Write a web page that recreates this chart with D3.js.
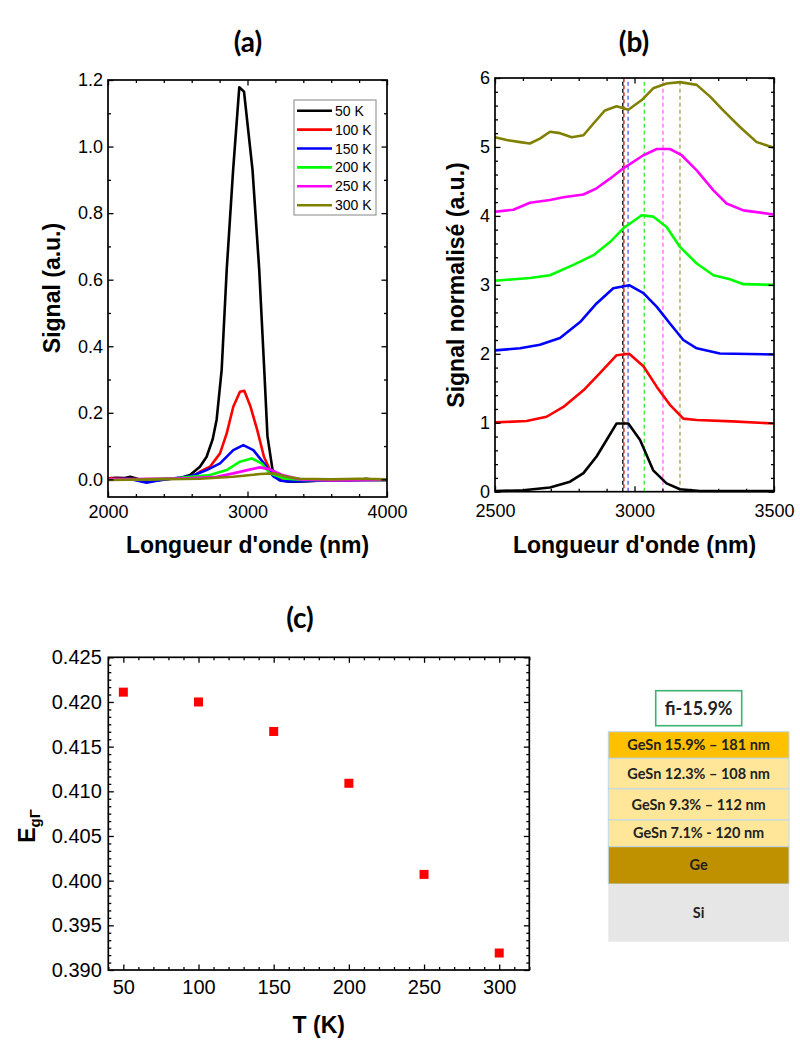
<!DOCTYPE html>
<html><head><meta charset="utf-8">
<script src="https://cdn.jsdelivr.net/npm/d3@7"></script>
<style>
body{margin:0;background:#fff}
svg{display:block}
</style></head><body>
<svg id="chart" width="800" height="1041"></svg>
<script>
// ---------------- Panel (a) data ----------------
const seriesLabels = ["50 K", "100 K", "150 K", "200 K", "250 K", "300 K"];
const seriesColors = ["#000000", "#ff0000", "#0000ff", "#00ff00", "#ff00ff", "#808000"];

const wlA50  = [2000,2060,2120,2160,2220,2280,2340,2400,2460,2520,2588,2659,2707,2750,2779,2815,2851,2897,2941,2975,3036,3084,3120,3143,3179,3227,3298,3400,3500,3600,3700,3800,3850,3900,4000];
const sigA50 = [0.003,0.005,0.004,0.008,0.0,-0.006,-0.004,0.0,0.002,0.004,0.013,0.038,0.068,0.12,0.18,0.33,0.63,0.93,1.178,1.165,0.93,0.63,0.33,0.13,0.03,-0.002,-0.007,-0.006,-0.004,-0.003,-0.003,-0.001,0.002,-0.001,-0.002];
const wlA100  = [2000,2200,2400,2550,2620,2659,2731,2803,2851,2898,2946,2977,3022,3070,3118,3177,3237,3300,3500,3800,4000];
const sigA100 = [0.003,0.0,0.002,0.005,0.012,0.023,0.038,0.078,0.138,0.218,0.263,0.266,0.218,0.148,0.068,0.013,0.0,-0.004,-0.004,-0.002,-0.002];
const wlA150  = [2000,2150,2277,2350,2450,2600,2707,2803,2898,2970,3042,3118,3188,3237,3300,3500,4000];
const sigA150 = [0.0,0.002,-0.01,-0.004,0.002,0.01,0.028,0.048,0.088,0.103,0.088,0.048,0.008,-0.004,-0.006,-0.004,-0.002];
const wlA200  = [2000,2300,2500,2731,2851,2946,3030,3101,3161,3257,3400,4000];
const sigA200 = [0.0,0.0,0.004,0.013,0.028,0.053,0.063,0.048,0.018,0.003,-0.002,-0.002];
const wlA250  = [2000,2400,2600,2779,2898,3022,3090,3161,3257,3376,3600,4000];
const sigA250 = [0.0,0.002,0.004,0.008,0.018,0.03,0.036,0.03,0.012,0.0,-0.003,-0.001];
const wlA300  = [2000,2300,2659,2898,3090,3188,3281,3376,3600,3800,4000];
const sigA300 = [-0.002,0.0,0.002,0.008,0.016,0.018,0.008,0.002,0.0,0.002,0.0];

const xTicksA = [2000, 3000, 4000];
const xMinorA = [2200,2400,2600,2800,3200,3400,3600,3800];
const yTicksA = [0.0, 0.2, 0.4, 0.6, 0.8, 1.0, 1.2];
const yMinorA = [0.1, 0.3, 0.5, 0.7, 0.9, 1.1];

// ---------------- Panel (b) data (normalised, offset by 1 per curve) ----------------
const wlB50  = [2500,2601,2697,2769,2817,2864,2900,2936,2978,3020,3067,3115,3163,3235,3300,3400,3500];
const sigB50 = [0.01,0.02,0.06,0.145,0.27,0.51,0.75,0.99,0.99,0.75,0.31,0.12,0.035,0.01,0.01,0.01,0.01];
const wlB100  = [2500,2613,2685,2745,2817,2876,2936,2981,3032,3080,3127,3175,3223,3350,3500];
const sigB100 = [1.005,1.025,1.087,1.23,1.47,1.72,1.98,2.0,1.82,1.52,1.26,1.06,1.04,1.02,0.99];
const wlB150  = [2500,2590,2661,2733,2805,2864,2924,2981,3032,3080,3127,3175,3223,3306,3500];
const sigB150 = [2.05,2.08,2.13,2.23,2.46,2.73,2.95,2.995,2.88,2.68,2.44,2.2,2.08,2.005,1.99];
const wlB200  = [2500,2625,2697,2781,2853,2912,2960,3026,3067,3115,3163,3223,3283,3342,3390,3500];
const sigB200 = [3.06,3.1,3.14,3.29,3.43,3.62,3.82,4.01,3.99,3.84,3.55,3.31,3.14,3.08,3.01,3.0];
const wlB250  = [2500,2566,2625,2697,2745,2817,2864,2912,2960,3032,3080,3127,3169,3223,3283,3330,3390,3500];
const sigB250 = [4.06,4.09,4.19,4.23,4.27,4.31,4.40,4.54,4.69,4.88,4.97,4.97,4.88,4.66,4.37,4.18,4.08,4.02];
const wlB300  = [2500,2542,2590,2625,2661,2697,2733,2775,2817,2853,2894,2936,2978,3026,3067,3115,3163,3223,3271,3318,3378,3438,3500];
const sigB300 = [5.14,5.10,5.07,5.05,5.12,5.22,5.20,5.14,5.17,5.34,5.53,5.59,5.54,5.68,5.85,5.92,5.94,5.90,5.73,5.53,5.29,5.07,4.99];
const peakWl  = [2958, 2962, 2977, 3035, 3102, 3163];
const peakColors = ["#000000", "#cc0000", "#5555ff", "#33ee33", "#ff66ff", "#a8a050"];

const xTicksB = [2500, 3000, 3500];
const xMinorB = [2600,2700,2800,2900,3100,3200,3300,3400];
const yTicksB = [0, 1, 2, 3, 4, 5, 6];
const yMinorB = [0.2,0.4,0.6,0.8,1.2,1.4,1.6,1.8,2.2,2.4,2.6,2.8,3.2,3.4,3.6,3.8,4.2,4.4,4.6,4.8,5.2,5.4,5.6,5.8];

// ---------------- Panel (c) data ----------------
const tempC = [50, 100, 150, 200, 250, 300];
const egC   = [0.4211, 0.4200, 0.4167, 0.4109, 0.4007, 0.3919];
const xTicksC = [50, 100, 150, 200, 250, 300];
const xMinorC = [40,60,70,80,90,110,120,130,140,160,170,180,190,210,220,230,240,260,270,280,290,310,320];
const yTicksC = [0.390, 0.395, 0.400, 0.405, 0.410, 0.415, 0.420, 0.425];
const yMinorStepsC = 6;

// ---------------- Layer stack ----------------
const layerLabels = ["GeSn 15.9% \u2013 181 nm", "GeSn 12.3% \u2013 108 nm", "GeSn 9.3% \u2013 112 nm", "GeSn 7.1% - 120 nm", "Ge", "Si"];
const layerColors = ["#ffc000", "#ffe699", "#ffe699", "#ffe699", "#bf9000", "#e7e6e6"];
const layerEdges  = [731.7, 758.3, 789, 820, 846.7, 884, 941.7];
const stackTitle = "fi-15.9%";

// =====================================================
const svg = d3.select("#chart");
svg.append("rect").attr("width", 800).attr("height", 1041).attr("fill", "#fff");
const FONT = '"Liberation Sans", Arial, sans-serif';
const TFONT = 'Lato, "Open Sans", sans-serif';

function frame(g, x, y, o) {
  const [xa, xb] = x.range();
  const [yb, ya] = y.range();
  const mk = (axisFn, scale, vals, size, fmt, pad, tr) => {
    const ax = axisFn(scale).tickValues(vals).tickSizeInner(size).tickSizeOuter(0).tickPadding(pad || 0)
      .tickFormat(fmt || (() => ""));
    const gg = g.append("g").attr("transform", tr).call(ax);
    gg.select(".domain").remove();
    gg.selectAll(".tick line").attr("stroke", "#000").attr("stroke-width", 1.3);
    gg.selectAll(".tick text").attr("fill", "#000").style("font-family", FONT).style("font-size", o.fs + "px");
    return gg;
  };
  mk(d3.axisBottom, x, o.xMinor, -3, null, 0, `translate(0,${yb})`);
  mk(d3.axisBottom, x, o.xMajor, -5.5, o.xFmt, o.xPad, `translate(0,${yb})`);
  mk(d3.axisTop, x, o.xMinor, -3, null, 0, `translate(0,${ya})`);
  mk(d3.axisTop, x, o.xMajor, -5.5, null, 0, `translate(0,${ya})`);
  mk(d3.axisLeft, y, o.yMinor, -3, null, 0, `translate(${xa},0)`);
  mk(d3.axisLeft, y, o.yMajor, -5.5, o.yFmt, o.yPad, `translate(${xa},0)`);
  mk(d3.axisRight, y, o.yMinor, -3, null, 0, `translate(${xb},0)`);
  mk(d3.axisRight, y, o.yMajor, -5.5, null, 0, `translate(${xb},0)`);
  g.append("rect").attr("x", xa).attr("y", ya).attr("width", xb - xa).attr("height", yb - ya)
    .attr("fill", "none").attr("stroke", "#000").attr("stroke-width", 1.7);
}

function title(txt, x, y) {
  svg.append("text").attr("x", x).attr("y", y).attr("text-anchor", "middle")
    .style("font-family", TFONT).style("font-weight", "bold").style("font-size", "28px").text(txt);
}
function axisTitle(txt, x, y, rot) {
  const t = svg.append("text").attr("text-anchor", "middle")
    .attr("transform", `translate(${x},${y})` + (rot ? " rotate(-90)" : ""))
    .style("font-family", FONT).style("font-weight", "bold").style("font-size", "23px").text(txt);
  return t;
}

// ---------------- Panel (a) ----------------
{
  const g = svg.append("g");
  const x = d3.scaleLinear().domain([2000, 4000]).range([108, 387]);
  const y = d3.scaleLinear().domain([-0.053, 1.2]).range([497, 80]);
  const seriesA = [[wlA50, sigA50], [wlA100, sigA100], [wlA150, sigA150], [wlA200, sigA200], [wlA250, sigA250], [wlA300, sigA300]];
  const line = d3.line().x(d => x(d[0])).y(d => y(d[1]));
  seriesA.forEach((s, i) => {
    g.append("path").datum(d3.zip(s[0], s[1])).attr("d", line)
      .attr("fill", "none").attr("stroke", seriesColors[i]).attr("stroke-width", 2.6).attr("stroke-linejoin", "round");
  });
  frame(g, x, y, { xMajor: xTicksA, xMinor: xMinorA, yMajor: yTicksA, yMinor: yMinorA,
    xFmt: d3.format("d"), yFmt: d3.format(".1f"), xPad: 8, yPad: 5, fs: 18 });
  // legend
  const lg = g.append("g");
  lg.append("rect").attr("x", 294).attr("y", 100).attr("width", 82).attr("height", 115)
    .attr("fill", "#fff").attr("stroke", "#999").attr("stroke-width", 1.2);
  seriesLabels.forEach((lab, i) => {
    const yy = 110.7 + i * 18.9;
    lg.append("line").attr("x1", 297).attr("x2", 332).attr("y1", yy).attr("y2", yy)
      .attr("stroke", seriesColors[i]).attr("stroke-width", 2.6);
    lg.append("text").attr("x", 335).attr("y", yy + 5).style("font-family", FONT).style("font-size", "14px").text(lab);
  });
  title("(a)", 248, 52);
  axisTitle("Longueur d'onde (nm)", 247.5, 553, false);
  axisTitle("Signal (a.u.)", 60, 288, true);
}

// ---------------- Panel (b) ----------------
{
  const g = svg.append("g");
  const x = d3.scaleLinear().domain([2500, 3500]).range([495, 774]);
  const y = d3.scaleLinear().domain([0, 6]).range([491.7, 78]);
  peakWl.forEach((w, i) => {
    g.append("line").attr("x1", x(w)).attr("x2", x(w)).attr("y1", y(0)).attr("y2", y(6))
      .attr("stroke", peakColors[i]).attr("stroke-width", 1.3).attr("stroke-dasharray", "4,3")
      .attr("stroke-dashoffset", i === 1 ? 3.5 : 0);
  });
  const seriesB = [[wlB50, sigB50], [wlB100, sigB100], [wlB150, sigB150], [wlB200, sigB200], [wlB250, sigB250], [wlB300, sigB300]];
  const line = d3.line().x(d => x(d[0])).y(d => y(d[1]));
  seriesB.forEach((s, i) => {
    g.append("path").datum(d3.zip(s[0], s[1])).attr("d", line)
      .attr("fill", "none").attr("stroke", seriesColors[i]).attr("stroke-width", 2.6).attr("stroke-linejoin", "round");
  });
  frame(g, x, y, { xMajor: xTicksB, xMinor: xMinorB, yMajor: yTicksB, yMinor: yMinorB,
    xFmt: d3.format("d"), yFmt: d3.format("d"), xPad: 13, yPad: 5, fs: 18 });
  title("(b)", 634, 52);
  axisTitle("Longueur d'onde (nm)", 634.5, 553, false);
  axisTitle("Signal normalisé (a.u.)", 464, 285, true);
}

// ---------------- Panel (c) ----------------
{
  const g = svg.append("g");
  const x = d3.scaleLinear().domain([40, 320]).range([108.3, 529.3]);
  const y = d3.scaleLinear().domain([0.390, 0.425]).range([970, 657.3]);
  const yMinorC = [];
  for (let k = 0; k < yTicksC.length - 1; k++) {
    for (let j = 1; j < yMinorStepsC; j++) yMinorC.push(yTicksC[k] + j * (yTicksC[k + 1] - yTicksC[k]) / yMinorStepsC);
  }
  frame(g, x, y, { xMajor: xTicksC, xMinor: xMinorC, yMajor: yTicksC, yMinor: yMinorC,
    xFmt: d3.format("d"), yFmt: d3.format(".3f"), xPad: 10, yPad: 6.5, fs: 20 });
  const s = 9;
  g.selectAll("rect.pt").data(d3.zip(tempC, egC)).join("rect").attr("class", "pt")
    .attr("x", d => x(d[0]) - s / 2).attr("y", d => y(d[1]) - s / 2).attr("width", s).attr("height", s)
    .attr("fill", "#ff0000");
  title("(c)", 300, 628);
  axisTitle("T (K)", 318.8, 1033, false);
  const t = svg.append("text").attr("text-anchor", "middle")
    .attr("transform", "translate(35,826) rotate(-90)")
    .style("font-family", FONT).style("font-weight", "bold").style("font-size", "23px");
  t.append("tspan").text("E");
  t.append("tspan").attr("dy", 5).style("font-size", "15px").text("g\u0393");
}

// ---------------- Layer stack ----------------
{
  const g = svg.append("g");
  const x0 = 608.3, x1 = 789, cx = (x0 + x1) / 2;
  g.append("rect").attr("x", 655.7).attr("y", 690.7).attr("width", 86).attr("height", 35)
    .attr("fill", "#fff").attr("stroke", "#3cb371").attr("stroke-width", 1.6);
  g.append("text").attr("x", cx).attr("y", 714.5).attr("text-anchor", "middle")
    .style("font-family", TFONT).style("font-weight", "bold").style("font-size", "18px").attr("fill", "#222").text(stackTitle);
  layerLabels.forEach((lab, i) => {
    const ya = layerEdges[i], yb = layerEdges[i + 1];
    g.append("rect").attr("x", x0).attr("y", ya).attr("width", x1 - x0).attr("height", yb - ya)
      .attr("fill", layerColors[i]).attr("stroke", i < 5 ? "#bdd7ee" : "none").attr("stroke-width", 1);
    g.append("text").attr("x", cx).attr("y", (ya + yb) / 2 + 5).attr("text-anchor", "middle")
      .style("font-family", TFONT).style("font-weight", "bold").style("font-size", "14.5px").attr("fill", "#222").text(lab);
  });
}
</script>
</body></html>
